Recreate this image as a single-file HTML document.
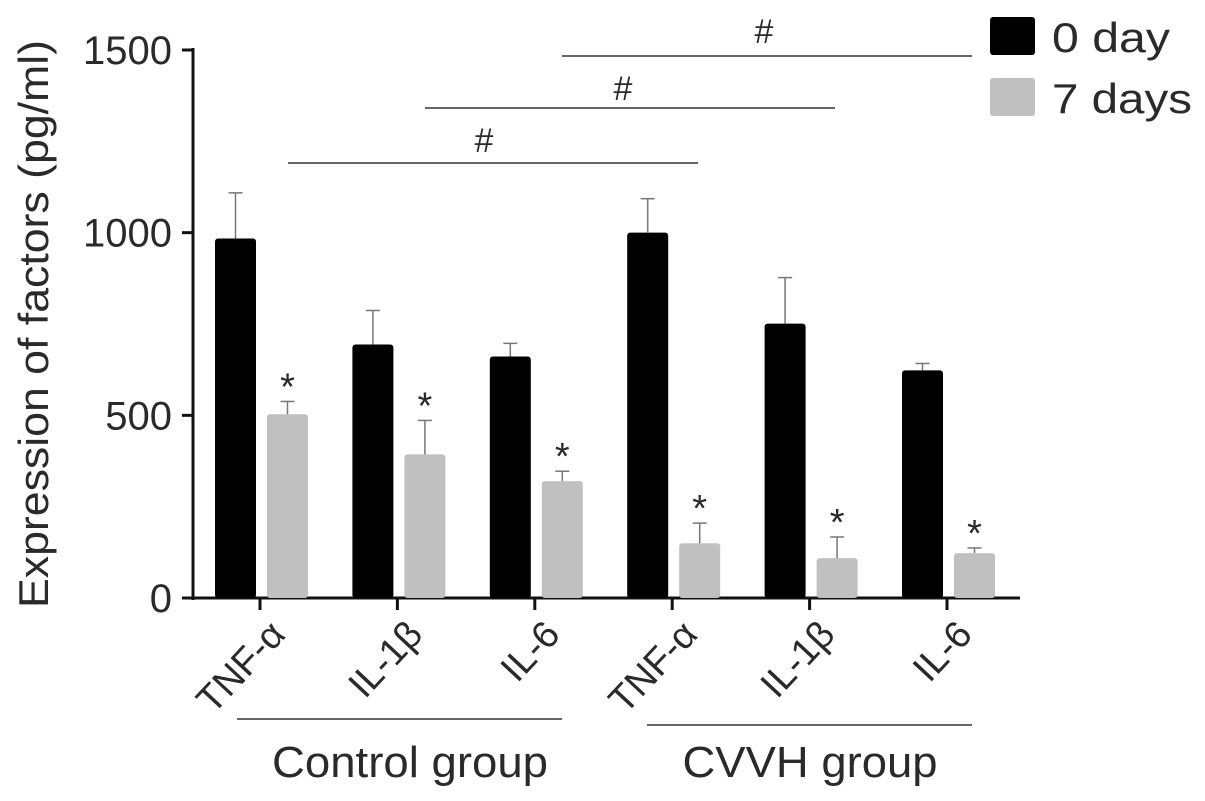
<!DOCTYPE html>
<html><head><meta charset="utf-8"><style>
body{margin:0;background:#fff}
text{font-family:"Liberation Sans",sans-serif;fill:#2a2a2a}
</style></head><body>
<svg id="chart" width="1205" height="796" xmlns="http://www.w3.org/2000/svg">
<g id="g"></g>
</svg>
<script>
const categories=["TNF-α","IL-1β","IL-6","TNF-α","IL-1β","IL-6"];
const day0=[984,694,661,1000,751,623];
const day0Err=[125,93,36,93,126,19];
const day7=[503,393,320,150,109,123];
const day7Err=[35,93,27,55,58,14];
const yTicks=[0,500,1000,1500];
const NS="http://www.w3.org/2000/svg";
const g=document.getElementById('g');
function y(v){return 598-v*(548/1500);}
function xc(i){return 260+i*137.4;}
function el(t,a,txt){const e=document.createElementNS(NS,t);for(const k in a)e.setAttribute(k,a[k]);if(txt!==undefined)e.textContent=txt;g.appendChild(e);return e;}
let a=el('line',{x1:193,y1:48,x2:193,y2:600,stroke:'#111','stroke-width':3});


a=el('line',{x1:191,y1:598,x2:1020,y2:598,stroke:'#111','stroke-width':3});


yTicks.forEach(v=>{
 let t=el('line',{x1:182,y1:y(v),x2:193,y2:y(v),stroke:'#111','stroke-width':3});
 
 
 let l=el('text',{x:172,y:y(v)+14,'text-anchor':'end','font-size':40},v);
 
 
});
let yt=el('text',{x:0,y:0,'font-size':42,'text-anchor':'middle',textLength:568,lengthAdjust:'spacingAndGlyphs',transform:'translate(48,324) rotate(-90)'},'Expression of factors (pg/ml)');


function errBar(cx,v,e,name){
 let l=el('line',{x1:cx,y1:y(v),x2:cx,y2:y(v+e),stroke:'#777','stroke-width':1.5});
 
 
 let c=el('line',{x1:cx-7,y1:y(v+e),x2:cx+7,y2:y(v+e),stroke:'#777','stroke-width':1.5});
 
 
}
categories.forEach((c,i)=>{
 const x=xc(i);
 let b=el('rect',{x:x-45,y:y(day0[i]),width:41,height:598-y(day0[i]),fill:'#000',rx:3});
 
 
 errBar(x-24.5,day0[i],day0Err[i],'error-bar-0day');
 let b2=el('rect',{x:x+7,y:y(day7[i]),width:41,height:598-y(day7[i]),fill:'#c0c0c0',rx:3});
 
 
 errBar(x+27.5,day7[i],day7Err[i],'error-bar-7days');
 let s=el('text',{x:x+27.5,y:y(day7[i]+day7Err[i])-2,'text-anchor':'middle','font-size':38},'*');
 
 
 let t=el('line',{x1:x,y1:598,x2:x,y2:610,stroke:'#111','stroke-width':3});
 
 
 let l=el('text',{x:0,y:0,'text-anchor':'end','font-size':38,transform:`translate(${x+27},${636}) rotate(-47)`},c);
 
 
});
[[237,562,719,410,'Control group','control-group',276],[647,972,725,810,'CVVH group','cvvh-group',255]].forEach(d=>{
 let l=el('line',{x1:d[0],y1:d[2],x2:d[1],y2:d[2],stroke:'#333','stroke-width':1.5});
 
 
 let t=el('text',{x:d[3],y:777,'text-anchor':'middle','font-size':44,textLength:d[6],lengthAdjust:'spacingAndGlyphs'},d[4]);
 
 
});
[[288,698,163,484,152],[425,835,108,623,100],[562,972,56,764,43]].forEach(d=>{
 let l=el('line',{x1:d[0],y1:d[2],x2:d[1],y2:d[2],stroke:'#333','stroke-width':1.5});
 
 
 let t=el('text',{x:d[3],y:d[4],'text-anchor':'middle','font-size':34},'#');
 
 
});
[['#000','0 day',17,'legend-0day',118],['#c0c0c0','7 days',78,'legend-7days',140]].forEach(d=>{
 let r=el('rect',{x:990,y:d[2],width:45,height:38,fill:d[0],rx:3});
 
 
 let t=el('text',{x:1052,y:d[2]+35,'font-size':42,textLength:d[4],lengthAdjust:'spacingAndGlyphs'},d[1]);
 
 
});
</script>
</body></html>
